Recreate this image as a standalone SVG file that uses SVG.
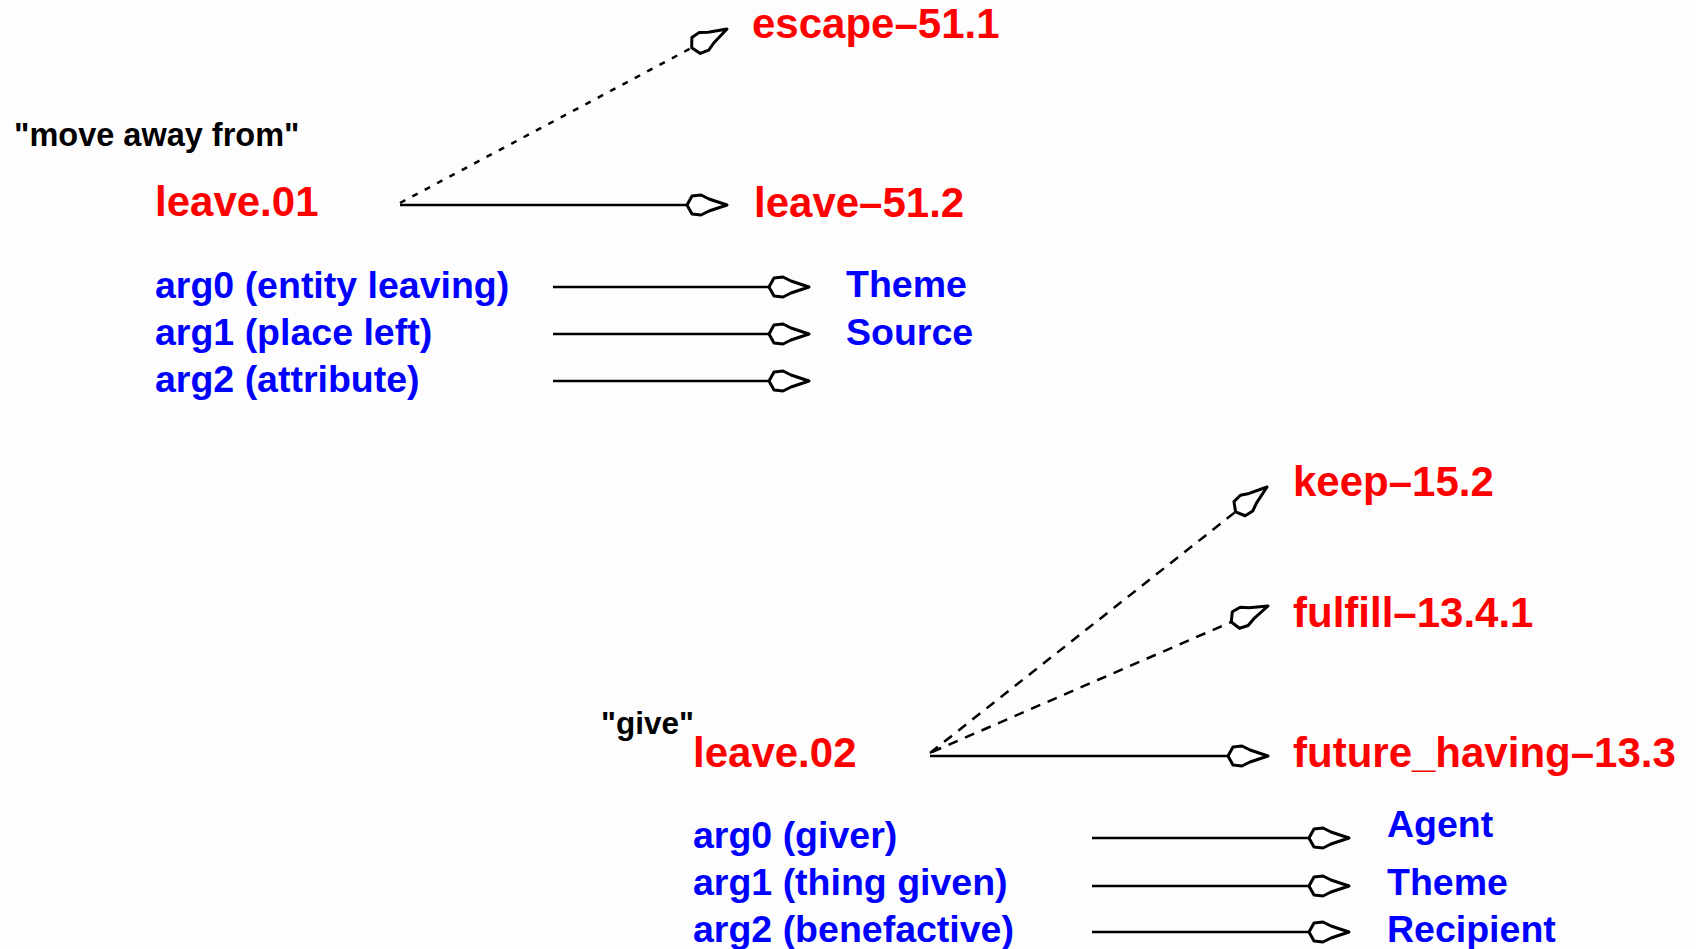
<svg xmlns="http://www.w3.org/2000/svg" width="1696" height="949" viewBox="0 0 1696 949">
<style>
text{font-family:"Liberation Sans",Arial,Helvetica,sans-serif;font-weight:bold}
.red{fill:#ff0000;font-size:42px}
.blue{fill:#0000ff;font-size:37.5px}
.blk{fill:#000000;font-size:32.5px}
.solid{stroke:#000;stroke-width:2.5;fill:none}
.dash1{stroke:#000;stroke-width:2.5;fill:none;stroke-dasharray:6 8}
.dash2{stroke:#000;stroke-width:2.5;fill:none;stroke-dasharray:10 8}
</style>
<defs>
<marker id="ah" markerUnits="userSpaceOnUse" viewBox="-44 -13 48 26" refX="0" refY="0" markerWidth="48" markerHeight="26" orient="auto" overflow="visible">
<path d="M0,0 L-18,-6 L-26,-10 L-35,-9 L-40,0 L-35,9 L-26,10 L-18,6 Z" fill="#fff" stroke="#000" stroke-width="3" stroke-linejoin="round"/>
</marker>
</defs>
<rect width="1696" height="949" fill="#fdfdfd"/>
<g id="connectors">
<line class="dash1" x1="400" y1="203" x2="727" y2="29" marker-end="url(#ah)"/>
<line class="solid" x1="400" y1="205" x2="727" y2="205" marker-end="url(#ah)"/>
<line class="solid" x1="553" y1="287" x2="809" y2="287" marker-end="url(#ah)"/>
<line class="solid" x1="553" y1="334" x2="809" y2="334" marker-end="url(#ah)"/>
<line class="solid" x1="553" y1="381" x2="809" y2="381" marker-end="url(#ah)"/>
<line class="dash2" x1="930" y1="753" x2="1267" y2="487" marker-end="url(#ah)"/>
<line class="dash2" x1="932" y1="752" x2="1268" y2="606" marker-end="url(#ah)"/>
<line class="solid" x1="930" y1="756" x2="1268" y2="756" marker-end="url(#ah)"/>
<line class="solid" x1="1092" y1="838" x2="1349" y2="838" marker-end="url(#ah)"/>
<line class="solid" x1="1092" y1="886" x2="1349" y2="886" marker-end="url(#ah)"/>
<line class="solid" x1="1092" y1="932" x2="1349" y2="932" marker-end="url(#ah)"/>
</g>
<g id="label-move-away"><text class="blk" x="14" y="146">"move away from"</text></g>
<g id="leave01"><text class="red" x="155" y="216">leave.01</text></g>
<g id="escape-51-1"><text class="red" x="752" y="38">escape–51.1</text></g>
<g id="leave-51-2"><text class="red" x="754" y="217">leave–51.2</text></g>
<g id="leave01-args">
<text class="blue" x="155" y="298">arg0 (entity leaving)</text>
<text class="blue" x="155" y="345">arg1 (place left)</text>
<text class="blue" x="155" y="392">arg2 (attribute)</text>
</g>
<g id="leave01-roles">
<text class="blue" x="846" y="297">Theme</text>
<text class="blue" x="846" y="345">Source</text>
</g>
<g id="label-give"><text class="blk" x="601" y="734" style="font-size:31.5px">"give"</text></g>
<g id="leave02"><text class="red" x="693" y="767">leave.02</text></g>
<g id="keep-15-2"><text class="red" x="1293" y="496">keep–15.2</text></g>
<g id="fulfill-13-4-1"><text class="red" x="1293" y="627">fulfill–13.4.1</text></g>
<g id="future-having-13-3"><text class="red" x="1293" y="767">future_having–13.3</text></g>
<g id="leave02-args">
<text class="blue" x="693" y="848">arg0 (giver)</text>
<text class="blue" x="693" y="895">arg1 (thing given)</text>
<text class="blue" x="693" y="942">arg2 (benefactive)</text>
</g>
<g id="leave02-roles">
<text class="blue" x="1387" y="837">Agent</text>
<text class="blue" x="1387" y="895">Theme</text>
<text class="blue" x="1387" y="942">Recipient</text>
</g>
</svg>
